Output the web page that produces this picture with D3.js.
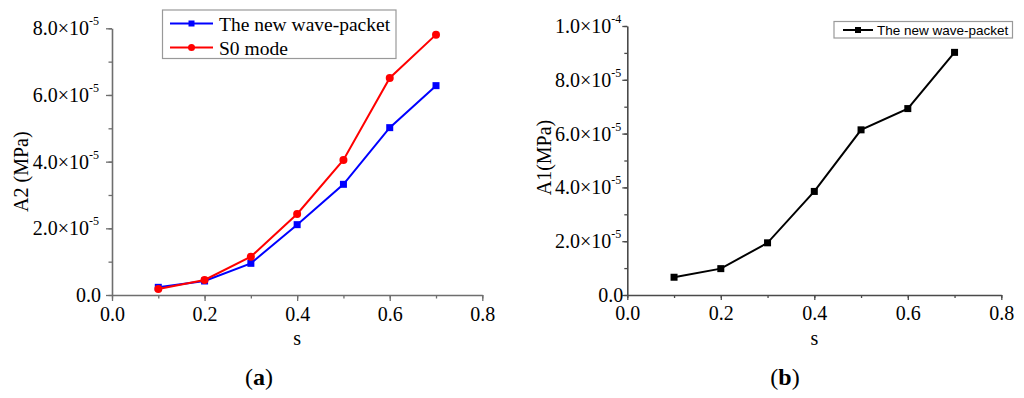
<!DOCTYPE html>
<html><head><meta charset="utf-8">
<script src="https://cdn.jsdelivr.net/npm/d3@7"></script>
<style>body{margin:0;background:#fff}svg{display:block}</style>
</head><body>
<svg id="c" width="1024" height="398"></svg>
<script>
// ---- data ----
const sValues = [0.1, 0.2, 0.3, 0.4, 0.5, 0.6, 0.7];
const newWavePacketA2 = [2.3e-6, 4.2e-6, 9.5e-6, 2.11e-5, 3.32e-5, 5.02e-5, 6.28e-5];
const s0ModeA2 = [1.8e-6, 4.5e-6, 1.15e-5, 2.43e-5, 4.05e-5, 6.51e-5, 7.81e-5];
const newWavePacketA1 = [6.6e-6, 9.8e-6, 1.94e-5, 3.85e-5, 6.14e-5, 6.93e-5, 9.02e-5];
const xTicks = [0, 0.2, 0.4, 0.6, 0.8];
const xTickLabels = ["0.0", "0.2", "0.4", "0.6", "0.8"];
const yTicksA = [0, 2e-5, 4e-5, 6e-5, 8e-5];
const yTickMantA = ["0.0", "2.0×10", "4.0×10", "6.0×10", "8.0×10"];
const yTickExpA = ["", "-5", "-5", "-5", "-5"];
const yTicksB = [0, 2e-5, 4e-5, 6e-5, 8e-5, 1e-4];
const yTickMantB = ["0.0", "2.0×10", "4.0×10", "6.0×10", "8.0×10", "1.0×10"];
const yTickExpB = ["", "-5", "-5", "-5", "-5", "-4"];

const svg = d3.select("#c");
const serif = "'Liberation Serif','Times New Roman',serif";
const sans = "'Liberation Sans',Arial,sans-serif";

function panel(o) {
  const x = d3.scaleLinear().domain([0, 0.8]).range([o.x0, o.x1]);
  const y = d3.scaleLinear().domain([0, o.ymax]).range([o.y0, o.y1]);
  const g = svg.append("g");
  // x axis
  const xa = g.append("g").attr("transform", `translate(0,${o.y0})`)
    .call(d3.axisBottom(x).tickValues(d3.range(0, 0.81, 0.1)).tickSize(o.minor).tickFormat(""));
  xa.select(".domain").remove();
  xa.selectAll("line").attr("stroke", o.axisColor).attr("stroke-width", 1.3);
  const xb = g.append("g").attr("transform", `translate(0,${o.y0})`)
    .call(d3.axisBottom(x).tickValues(xTicks).tickSize(o.major).tickSizeOuter(0)
      .tickFormat((d, i) => xTickLabels[i]).tickPadding(6));
  xb.select(".domain").attr("stroke", o.axisColor).attr("stroke-width", 1.6);
  xb.selectAll("line").attr("stroke", o.axisColor).attr("stroke-width", 1.3);
  xb.selectAll("text").attr("font-family", serif).attr("font-size", 20).attr("fill", "#000");
  // y axis
  const ya = g.append("g").attr("transform", `translate(${o.x0},0)`)
    .call(d3.axisLeft(y).tickValues(d3.range(0, o.ymax * 1.0001, 1e-5)).tickSize(o.minor).tickFormat(""));
  ya.select(".domain").remove();
  ya.selectAll("line").attr("stroke", o.axisColor).attr("stroke-width", 1.3);
  const yb = g.append("g").attr("transform", `translate(${o.x0},0)`)
    .call(d3.axisLeft(y).tickValues(o.yTicks).tickSize(o.major).tickSizeOuter(0).tickFormat(""));
  yb.select(".domain").attr("stroke", o.axisColor).attr("stroke-width", 1.6);
  yb.selectAll("line").attr("stroke", o.axisColor).attr("stroke-width", 1.3);
  o.yTicks.forEach((v, i) => {
    const t = g.append("text").attr("font-family", serif).attr("font-size", 20)
      .attr("text-anchor", "end").attr("x", o.x0 - o.labelGap - (o.exps[i] ? 12 : 0))
      .attr("y", y(v) + 7).text(o.mants[i]);
    if (o.exps[i]) {
      g.append("text").attr("font-family", serif).attr("font-size", 12)
        .attr("text-anchor", "start").attr("x", o.x0 - o.labelGap - 12)
        .attr("y", y(v) - 3).text(o.exps[i]);
    }
  });
  // titles
  g.append("text").attr("font-family", serif).attr("font-size", 20).attr("text-anchor", "middle")
    .attr("x", (o.x0 + o.x1) / 2).attr("y", o.y0 + 50).text("s");
  g.append("text").attr("font-family", serif).attr("font-size", 20).attr("text-anchor", "middle")
    .attr("transform", `translate(${o.ytx},${(o.y0 + o.y1) / 2 + o.ytdy}) rotate(-90)`).text(o.ytitle);
  const cap = g.append("text").attr("font-family", serif).attr("font-size", 24)
    .attr("text-anchor", "middle").attr("x", o.capx).attr("y", 385);
  cap.append("tspan").text("(");
  cap.append("tspan").attr("font-weight", "bold").text(o.caption);
  cap.append("tspan").text(")");
  return { g, x, y };
}

function series(p, vals, color, shape) {
  const line = d3.line().x((d, i) => p.x(sValues[i])).y(d => p.y(d));
  p.g.append("path").datum(vals).attr("d", line).attr("fill", "none")
    .attr("stroke", color).attr("stroke-width", 2);
  if (shape === "square") {
    p.g.selectAll(null).data(vals).enter().append("rect")
      .attr("x", (d, i) => p.x(sValues[i]) - 3.5).attr("y", d => p.y(d) - 3.5)
      .attr("width", 7).attr("height", 7).attr("fill", color);
  } else {
    p.g.selectAll(null).data(vals).enter().append("circle")
      .attr("cx", (d, i) => p.x(sValues[i])).attr("cy", d => p.y(d))
      .attr("r", 4).attr("fill", color);
  }
}

// Panel (a)
const pa = panel({ x0: 112, x1: 482.3, y0: 295, y1: 28.3, ymax: 8e-5, yTicks: yTicksA,
  mants: yTickMantA, exps: yTickExpA, axisColor: "#6e6e6e", major: 6, minor: 3.5, labelGap: 11,
  ytitle: "A2 (MPa)", ytx: 28, ytdy: 10, caption: "a", capx: 259 });
series(pa, newWavePacketA2, "#0000ff", "square");
series(pa, s0ModeA2, "#ff0000", "circle");

// Panel (b)
const pb = panel({ x0: 627.3, x1: 1001.3, y0: 295, y1: 26, ymax: 1e-4, yTicks: yTicksB,
  mants: yTickMantB, exps: yTickExpB, axisColor: "#4a4a4a", major: 5, minor: 3, labelGap: 4,
  ytitle: "A1(MPa)", ytx: 551, ytdy: -3, caption: "b", capx: 785 });
series(pb, newWavePacketA1, "#000000", "square");

// Legend (a)
const la = svg.append("g");
la.append("rect").attr("x", 162.5).attr("y", 10).attr("width", 233.5).attr("height", 48.5)
  .attr("fill", "#fff").attr("stroke", "#999").attr("stroke-width", 1.2);
[["The new wave-packet", "#0000ff", "square", 23.5], ["S0 mode", "#ff0000", "circle", 47.5]].forEach(e => {
  la.append("line").attr("x1", 170).attr("x2", 213).attr("y1", e[3]).attr("y2", e[3])
    .attr("stroke", e[1]).attr("stroke-width", 2);
  if (e[2] === "square") la.append("rect").attr("x", 188.5).attr("y", e[3] - 3).attr("width", 6).attr("height", 6).attr("fill", e[1]);
  else la.append("circle").attr("cx", 191.5).attr("cy", e[3]).attr("r", 3.5).attr("fill", e[1]);
  la.append("text").attr("x", 219).attr("y", e[3] + 7).attr("font-family", serif)
    .attr("font-size", 19.5).text(e[0]);
});

// Legend (b)
const lb = svg.append("g");
lb.append("rect").attr("x", 834).attr("y", 21.5).attr("width", 178.5).attr("height", 16.5)
  .attr("fill", "#fff").attr("stroke", "#999").attr("stroke-width", 1.2);
lb.append("line").attr("x1", 843).attr("x2", 873).attr("y1", 30).attr("y2", 30)
  .attr("stroke", "#000").attr("stroke-width", 2);
lb.append("rect").attr("x", 855).attr("y", 27).attr("width", 6).attr("height", 6).attr("fill", "#000");
lb.append("text").attr("x", 877).attr("y", 35).attr("font-family", sans).attr("font-size", 13.5)
  .text("The new wave-packet");
</script>
</body></html>
